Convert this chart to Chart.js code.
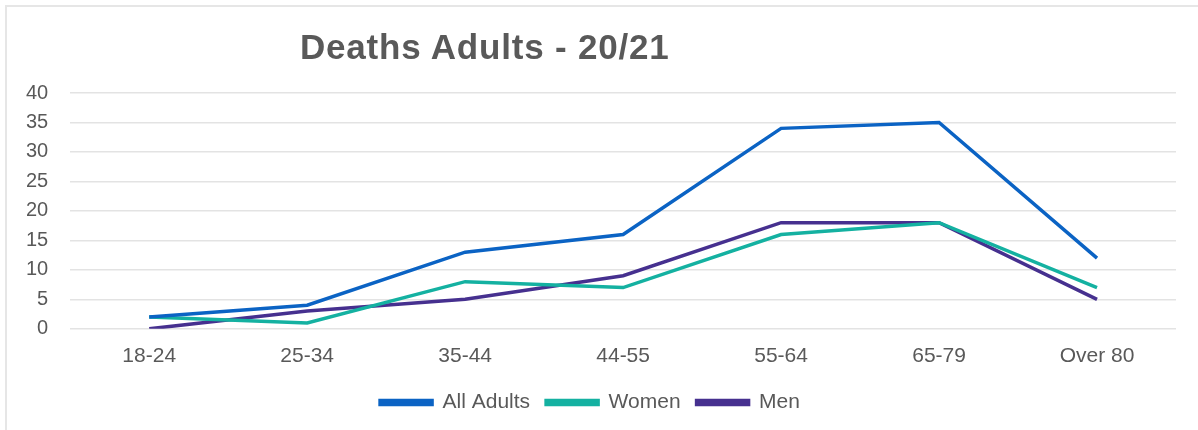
<!DOCTYPE html>
<html>
<head>
<meta charset="utf-8">
<script src="https://cdn.jsdelivr.net/npm/chart.js@4"></script>
<style>
  body { margin: 0; background: #fff; }
  #wrap { position: relative; width: 1198px; height: 430px; overflow: hidden; }
  #frame { position: absolute; left: 5px; top: 5px; width: 1200px; height: 440px; border: 2px solid #e6e6e6; }
  #title { position: absolute; left: 300px; top: 27px; font: bold 35px "Liberation Sans", Arial, sans-serif; letter-spacing: 0.8px; color: #595959; }
  canvas { position: absolute; left: 0; top: 0; }
</style>
</head>
<body>
<div id="wrap">
  <div id="frame"></div>
  <canvas id="deaths-chart" width="1198" height="430"></canvas>
  <div id="title">Deaths Adults - 20/21</div>
</div>
<script>
// Age bands along the x-axis
const ageBands = ['18-24', '25-34', '35-44', '44-55', '55-64', '65-79', 'Over 80'];

// Deaths per band
const allAdults = [2, 4, 13, 16, 34, 35, 12];
const women = [2, 1, 8, 7, 16, 18, 7];
const men = [0, 3, 5, 9, 18, 18, 5];

const ctx = document.getElementById('deaths-chart');

function series(label, data, colour) {
    return {
        label: label,
        data: data,
        borderColor: colour,
        backgroundColor: colour,
        borderWidth: 3.5,
        pointRadius: 0,
        tension: 0,
        fill: false,
    };
}

const deathsChart = new Chart(ctx, {
    type: 'line',
    data: {
        labels: ageBands,
        datasets: [
            series('All Adults', allAdults, '#0b63c4'),
            series('Women', women, '#14b1a1'),
            series('Men', men, '#46308f'),
        ]
    },
    options: {
        responsive: false,
        animation: false,
        layout: {
            padding: { left: 4, right: 22, top: 93, bottom: 7 }
        },
        scales: {
            x: {
                offset: true,
                grid: { display: false },
                border: { display: false },
                ticks: {
                    color: '#595959',
                    padding: 7,
                    font: { family: 'Liberation Sans', size: 21 }
                }
            },
            y: {
                min: 0,
                max: 40,
                grid: { color: '#e3e3e3', lineWidth: 1.5, drawTicks: false },
                border: { display: false },
                ticks: {
                    stepSize: 5,
                    color: '#595959',
                    padding: 22,
                    font: { family: 'Liberation Sans', size: 20 }
                }
            }
        },
        plugins: {
            title: { display: false },
            tooltip: { enabled: false },
            legend: {
                position: 'bottom',
                labels: {
                    boxWidth: 52,
                    boxHeight: 4,
                    padding: 16,
                    color: '#595959',
                    font: { family: 'Liberation Sans', size: 21 }
                }
            }
        }
    }
});
</script>
</body>
</html>
